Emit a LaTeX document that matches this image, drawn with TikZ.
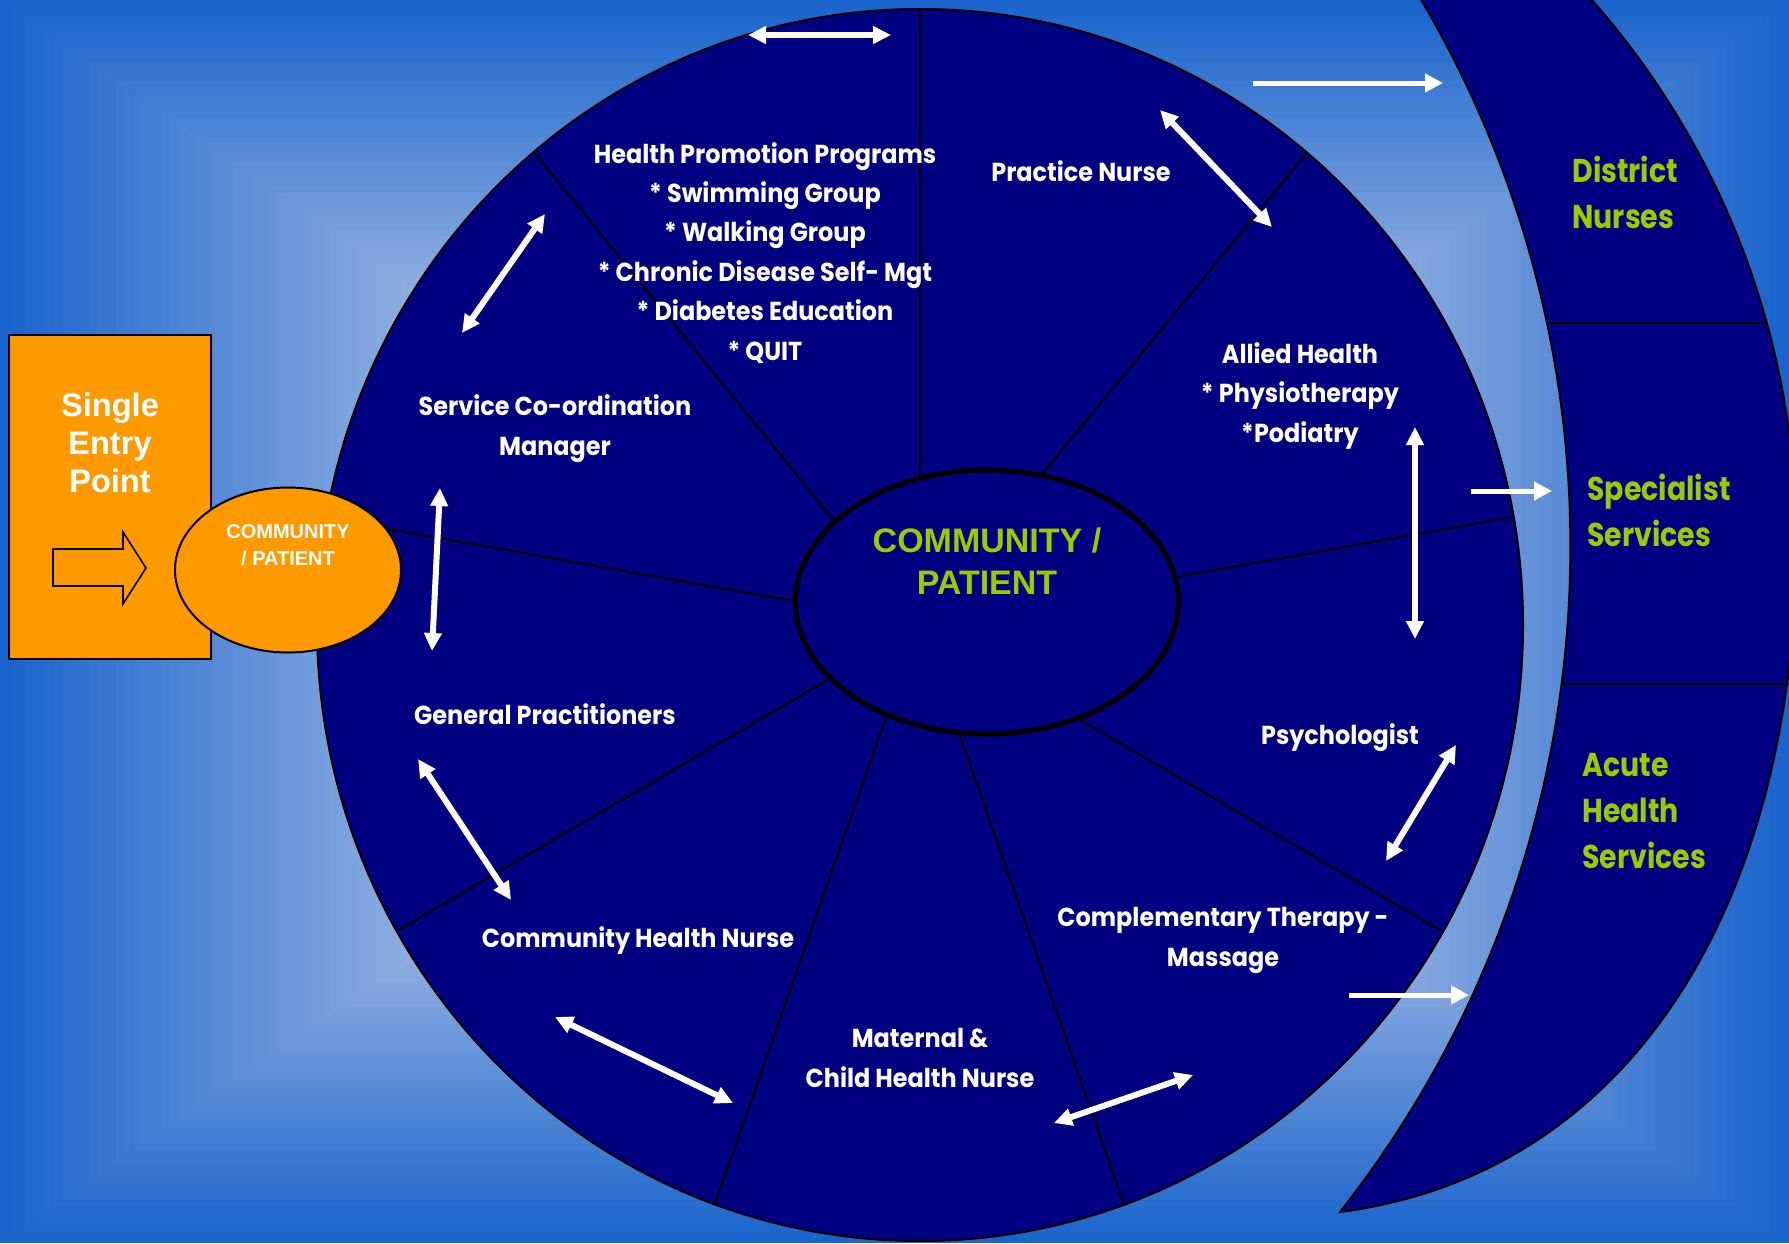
\documentclass[tikz,border=0pt]{standalone}
\usepackage{fontspec}
\setmainfont{Liberation Sans}
\newfontfamily\wheelfont{Poppins}[FakeStretch=0.92]
\newfontfamily\servicefont{Poppins}[FakeStretch=0.86]
\usetikzlibrary{arrows.meta,shapes.geometric}
\definecolor{wheelblue}{RGB}{0,0,128}
\definecolor{entryorange}{RGB}{255,153,0}
\definecolor{lime}{RGB}{153,204,0}
\definecolor{bgedge}{RGB}{25,100,204}
\definecolor{bgmid}{RGB}{142,172,224}
\definecolor{bgcore}{RGB}{200,215,240}
\tikzset{
  seg/.style={draw=black, line width=1pt},
  lbl/.style={text=white, font=\wheelfont\bfseries\fontsize{13}{19.7}\selectfont, align=center, anchor=base, inner sep=0pt},
  svc/.style={text=lime, font=\servicefont\bfseries\fontsize{16.5}{22.8}\selectfont, align=left, anchor=base west, inner sep=0pt},
  link/.style={draw=white, line width=3pt, {Triangle[length=9pt,width=8.5pt]}-{Triangle[length=9pt,width=8.5pt]}},
  feed/.style={draw=white, line width=2.5pt, -{Triangle[length=9pt,width=9pt]}},
}
\begin{document}
\begin{tikzpicture}[x=0.5pt,y=-0.5pt]
\useasboundingbox (0,0) rectangle (1789,1243);
% background, lighter towards the middle
\foreach \i in {45,44,...,0}{
  \pgfmathsetmacro\t{0.55+\i/100}
  \pgfmathsetmacro\p{\i/45*100}
  \fill[bgedge!\p!bgmid] ({894.5*(1-\t)},{621.5*(1-\t)}) rectangle ({894.5*(1+\t)},{621.5*(1+\t)});
}
\foreach \i in {54,53,...,1}{
  \pgfmathsetmacro\t{\i/100}
  \pgfmathsetmacro\p{\i/55*100}
  \fill[bgmid!\p!bgcore] ({894.5*(1-\t)},{621.5*(1-\t)}) rectangle ({894.5*(1+\t)},{621.5*(1+\t)});
}

% outer services
\draw[fill=wheelblue, line width=1pt] (1564,-30)
  arc[start angle=-44.3, end angle=0, radius=817]
  .. controls (1796,890) and (1640,1173) .. (1340,1212)
  arc[start angle=38.2, end angle=-32, radius=1076] -- cycle;
\draw[seg] (1546,323) -- (1768,323);
\draw[seg] (1561,684) -- (1792,684);

% the wheel
\filldraw[fill=wheelblue, draw=black, line width=1pt] (920,625) ellipse [x radius=603, y radius=616];
\draw[seg] (920,9) -- (920,520)
  (1307,153) -- (1030,489)
  (1512,517) -- (1160,580)
  (1440,930) -- (1070,714)
  (1124,1204) -- (958,730)
  (715,1204) -- (889,709)
  (399,930) -- (838,674)
  (326,518) -- (805,603)
  (534,152) -- (840,528);
\node (hub) [ellipse, draw=black, line width=2.5pt, fill=wheelblue, minimum width=191.5pt, minimum height=132pt, inner sep=0pt] at (987,602) {};
\node (hubtext) [text=lime, font=\bfseries\fontsize{17}{21}\selectfont, align=center, anchor=base, inner sep=0pt] at (987,594) {COMMUNITY /\\PATIENT};

\node[lbl] (hpp) at (765,360) {Health Promotion Programs\\* Swimming Group\\* Walking Group\\* Chronic Disease Self- Mgt\\* Diabetes Education\\* QUIT};
\node[lbl] (pn) at (1081,181) {Practice Nurse};
\node[lbl] (ah) at (1300,442) {Allied Health\\* Physiotherapy\\*Podiatry};
\node[lbl] (psy) at (1340,744) {Psychologist};
\node[lbl] (ct) at (1223,966) {Complementary Therapy -\\Massage};
\node[lbl] (mch) at (920,1087) {Maternal \&\\Child Health Nurse};
\node[lbl] (chn) at (638,947) {Community Health Nurse};
\node[lbl] (gp) at (545,724) {General Practitioners};
\node[lbl] (scm) at (555,455) {Service Co-ordination\\Manager};

\node[svc] (dn) at (1572,228) {District\\Nurses};
\node[svc] (ss) at (1587,546) {Specialist\\Services};
\node[svc] (ahs) at (1582,868) {Acute\\Health\\Services};

% single entry point
\node (entry) [draw=black, line width=1pt, fill=entryorange, minimum width=101pt, minimum height=162pt] at (110,497) {};
\node (entrytext) [text=white, font=\bfseries\fontsize{16.3}{19}\selectfont, align=center, anchor=base, inner sep=0pt] at (110,492) {Single\\Entry\\Point};
\filldraw[fill=entryorange, draw=black, line width=0.8pt] (53,549) -- (123,549) -- (123,532) -- (146,568) -- (123,604) -- (123,586) -- (53,586) -- cycle;
\node (patient) [ellipse, draw=black, line width=1pt, fill=entryorange, minimum width=113pt, minimum height=82.5pt] at (288,570) {};
\node (patienttext) [text=white, font=\bfseries\fontsize{10}{13.5}\selectfont, align=center, anchor=base, inner sep=0pt] at (288,565) {COMMUNITY\\/ PATIENT};

% arrows between the services
\coordinate (a1) at (748,35);    \coordinate (a2) at (891,35);
\coordinate (b1) at (1160,110);  \coordinate (b2) at (1272,227);
\coordinate (c1) at (545,214);   \coordinate (c2) at (462,333);
\coordinate (d1) at (440,488);   \coordinate (d2) at (432,651);
\coordinate (e1) at (1415,427);  \coordinate (e2) at (1415,639);
\coordinate (f1) at (1456,745);  \coordinate (f2) at (1386,861);
\coordinate (g1) at (418,759);   \coordinate (g2) at (511,900);
\coordinate (h1) at (555,1017);  \coordinate (h2) at (733,1103);
\coordinate (i1) at (1054,1123); \coordinate (i2) at (1193,1075);
\coordinate (j1) at (1253,83);   \coordinate (j2) at (1443,83);
\coordinate (k1) at (1471,491);  \coordinate (k2) at (1552,491);
\coordinate (l1) at (1349,995);  \coordinate (l2) at (1469,995);
\foreach \n in {a,b,c,d,e,f,g,h,i}
  \draw[link] (\n1) -- (\n2);
\foreach \n in {j,k,l}
  \draw[feed] (\n1) -- (\n2);
\end{tikzpicture}
\end{document}
